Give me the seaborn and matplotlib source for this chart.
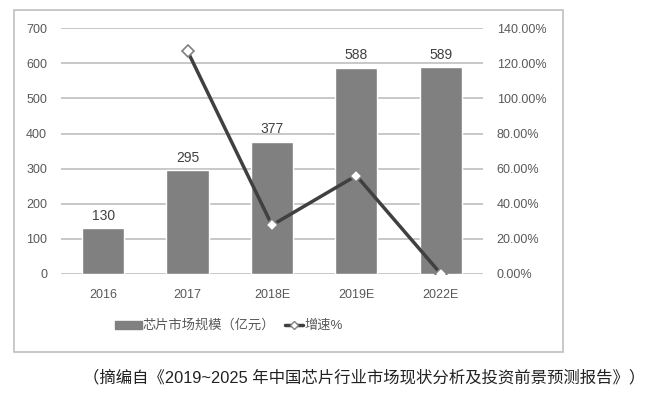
import matplotlib
matplotlib.use("Agg")
import matplotlib.pyplot as plt
import seaborn as sns
import pandas as pd
from matplotlib.patches import Rectangle
from matplotlib.ticker import FuncFormatter

years = ['2016', '2017', '2018E', '2019E', '2022E']
market_size = [130, 295, 377, 588, 589]
growth = [None, 126.9, 27.8, 56.0, 0.17]

sns.set_style('white')
plt.rcParams['font.family'] = ['Liberation Sans', 'Noto Sans CJK SC', 'DejaVu Sans']

df = pd.DataFrame({'year': years, 'size': market_size, 'growth': growth})

fig = plt.figure(figsize=(6.52, 3.97), dpi=100)
fig.patches.append(Rectangle((0.021, 0.113), 0.843, 0.862, transform=fig.transFigure,
                             fill=False, edgecolor='#bfbfbf', linewidth=1.2))
ax = fig.add_axes([0.0936, 0.310, 0.647, 0.619])

sns.barplot(data=df, x='year', y='size', color='#808080', width=0.5,
            saturation=1, ax=ax, zorder=2)
ax.set_ylim(0, 700)
ax.set_yticks(range(0, 701, 100))
ax.yaxis.grid(True, color='#bfbfbf', linewidth=1.2, zorder=0)
ax.set_axisbelow(True)
for s in ax.spines.values():
    s.set_visible(False)
ax.set_xlabel('')
ax.set_ylabel('')
ax.tick_params(axis='both', labelsize=9, colors='#595959', length=0)
ax.tick_params(axis='x', pad=11)
ax.tick_params(axis='y', pad=10)

for i, v in enumerate(market_size):
    ax.text(i, v + 16, str(v), ha='center', va='bottom', fontsize=10, color='#404040')

ax2 = ax.twinx()
sns.pointplot(data=df, x='year', y='growth', color='#404040', markers='D',
              linewidth=2.5, markersize=6, markerfacecolor='white',
              markeredgecolor='#808080', markeredgewidth=1.2, ax=ax2)
ax2.set_ylim(0, 140)
ax2.set_yticks(range(0, 141, 20))
ax2.yaxis.set_major_formatter(FuncFormatter(lambda v, p: f'{v:.2f}%'))
for s in ax2.spines.values():
    s.set_visible(False)
ax2.set_xlabel('')
ax2.set_ylabel('')
ax2.tick_params(axis='y', labelsize=9, colors='#595959', length=0, pad=10)

# legend
fig.patches.append(Rectangle((0.177, 0.171), 0.041, 0.02, transform=fig.transFigure,
                             color='#808080'))
fig.text(0.219, 0.181, '芯片市场规模（亿元）', fontsize=9.5, color='#595959', va='center')
fig.lines.append(plt.Line2D([0.437, 0.465], [0.181, 0.181], transform=fig.transFigure,
                            color='#404040', linewidth=2.5))
fig.lines.append(plt.Line2D([0.451], [0.181], transform=fig.transFigure, marker='D',
                            markersize=4, markerfacecolor='white', markeredgecolor='#808080',
                            linestyle='none'))
fig.text(0.467, 0.181, '增速%', fontsize=9.5, color='#595959', va='center')

fig.text(0.128, 0.048, '（摘编自《2019~2025 年中国芯片行业市场现状分析及投资前景预测报告》）',
         fontsize=11.8, color='#222222', va='center')

fig.savefig('out.png', dpi=100)
